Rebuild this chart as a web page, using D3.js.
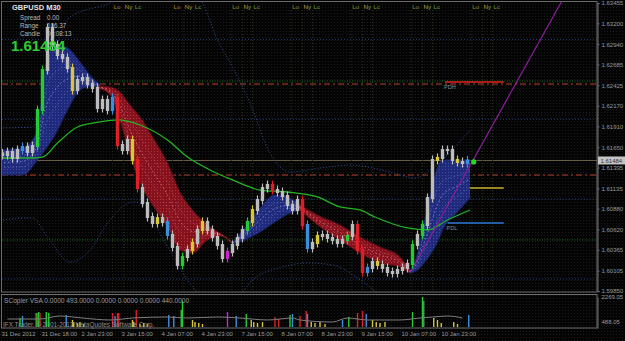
<!DOCTYPE html>
<html>
<head>
<meta charset="utf-8">
<script src="https://cdn.jsdelivr.net/npm/d3@7"></script>
<style>
  html, body { margin: 0; padding: 0; background: #000; overflow: hidden; }
  svg { display: block; }
  text { font-family: "Liberation Sans", Arial, sans-serif; }
</style>
</head>
<body>
<div id="chart"></div>
<script>
// *************************************
// DATA
// *************************************

const priceTicks = ["1.63455", "1.63200", "1.62940", "1.62685", "1.62425", "1.62170", "1.61910", "1.61650",
                    "1.61395", "1.61135", "1.60880", "1.60620", "1.60365", "1.60105", "1.59850"];
const volumeTicks = [2269.05, 488.05];
const dateLabels = ["31 Dec 2012", "31 Dec 18:00", "2 Jan 23:00", "3 Jan 15:00", "4 Jan 07:00", "4 Jan 23:00",
                    "7 Jan 15:00", "8 Jan 07:00", "8 Jan 23:00", "9 Jan 15:00", "10 Jan 07:00", "10 Jan 23:00"];
const barsPerLabel = 32;
const barsPerSlot = 4;   // one drawn candle = 2 hours of M30 bars

// close price of each 2h slot
const closes = [1.61552, 1.61590, 1.61515, 1.61615, 1.61653, 1.61590, 1.61665, 1.62116, 1.62616, 1.63142,
                1.62929, 1.62804, 1.62767, 1.62641, 1.62366, 1.62491, 1.62516, 1.62441, 1.62391, 1.62141,
                1.62241, 1.62116, 1.62266, 1.61678, 1.61615, 1.61740, 1.61490, 1.61139, 1.60952, 1.60776,
                1.60701, 1.60764, 1.60714, 1.60551, 1.60401, 1.60176, 1.60276, 1.60363, 1.60451, 1.60614,
                1.60714, 1.60614, 1.60526, 1.60426, 1.60263, 1.60338, 1.60426, 1.60514, 1.60614, 1.60714,
                1.60864, 1.60989, 1.61139, 1.61177, 1.61114, 1.61089, 1.61039, 1.60927, 1.60864, 1.60989,
                1.60676, 1.60388, 1.60451, 1.60539, 1.60551, 1.60514, 1.60489, 1.60451, 1.60489, 1.60539,
                1.60676, 1.60363, 1.60088, 1.60138, 1.60213, 1.60176, 1.60138, 1.60088, 1.60075, 1.60113,
                1.60138, 1.60188, 1.60426, 1.60551, 1.60676, 1.61014, 1.61490, 1.61515, 1.61615, 1.61615,
                1.61490, 1.61465, 1.61452, 1.61484];

// VSA-coloured candles: slot index and colour code
const highlightSlots  = [4, 7, 8, 14, 22, 23, 26, 27, 31, 33, 36, 38, 40, 45, 49, 50, 54, 60, 61, 63,
                         69, 71, 72, 73, 75, 82, 84, 87, 91, 93];
const highlightColors = ["b", "g", "g", "y", "b", "r", "y", "r", "y", "b", "g", "y", "y", "m", "g", "y", "r", "r", "b", "y",
                         "g", "r", "r", "b", "y", "g", "g", "y", "y", "b"];

// MA ribbons: [bar, upper price, lower price]
const blueRibbon1 = [[0, 1.61615, 1.61302], [18, 1.61640, 1.61302], [30, 1.61865, 1.61490], [36, 1.62616, 1.61615],
                     [44, 1.62929, 1.61803], [54, 1.62892, 1.62116], [64, 1.62717, 1.62366], [74, 1.62516, 1.62416],
                     [80, 1.62441, 1.62404]];
const redRibbon1 = [[78, 1.62416, 1.62391], [88, 1.62404, 1.62303], [96, 1.62341, 1.61991], [104, 1.62178, 1.61552],
                    [112, 1.62028, 1.61202], [122, 1.61778, 1.60927], [134, 1.61452, 1.60651], [144, 1.61089, 1.60363],
                    [154, 1.60864, 1.60326], [166, 1.60676, 1.60489], [176, 1.60576, 1.60539], [186, 1.60463, 1.60438]];
const blueRibbon2 = [[186, 1.60463, 1.60438], [196, 1.60639, 1.60489], [208, 1.60889, 1.60589], [220, 1.61052, 1.60714],
                     [232, 1.61014, 1.60826], [240, 1.60927, 1.60864]];
const redRibbon2 = [[240, 1.60927, 1.60864], [254, 1.60801, 1.60676], [272, 1.60676, 1.60489], [288, 1.60526, 1.60326],
                    [304, 1.60401, 1.60201], [320, 1.60276, 1.60151], [328, 1.60113, 1.60075]];
const blueRibbon3 = [[328, 1.60113, 1.60075], [334, 1.60326, 1.60113], [338, 1.60614, 1.60176], [344, 1.61027, 1.60301],
                     [350, 1.61402, 1.60463], [354, 1.61490, 1.60614], [366, 1.61490, 1.60839], [376, 1.61490, 1.61014]];

// slow moving average: [bar, price]
const greenMA = [[0, 1.61515], [24, 1.61515], [34, 1.61527], [46, 1.61703], [62, 1.61903], [80, 1.61966],
                 [94, 1.61991], [112, 1.61928], [134, 1.61740], [150, 1.61527], [168, 1.61365], [186, 1.61240],
                 [208, 1.61114], [230, 1.61089], [254, 1.61027], [272, 1.60902], [288, 1.60864], [300, 1.60776],
                 [326, 1.60639], [342, 1.60614], [358, 1.60739], [376, 1.60864]];

// dotted envelope bands: [bar, price]
const upperBand = [[0, 1.61890], [26, 1.61903], [40, 1.62616], [48, 1.63054], [56, 1.63280], [88, 1.63455],
                   [120, 1.63743], [160, 1.63493], [174, 1.62992], [186, 1.62654], [200, 1.62203], [216, 1.61577],
                   [232, 1.61340], [256, 1.61390], [280, 1.61427], [312, 1.61340], [332, 1.61265], [344, 1.61365],
                   [360, 1.61590], [376, 1.61865]];
const lowerBand = [[0, 1.60739], [26, 1.60764], [38, 1.60526], [56, 1.60213], [70, 1.60326], [88, 1.60739],
                   [106, 1.60964], [118, 1.60902], [128, 1.60576], [142, 1.60201], [150, 1.59988], [160, 1.59800],
                   [172, 1.59675], [188, 1.59737], [202, 1.59988], [226, 1.60151], [246, 1.60201], [266, 1.60176],
                   [288, 1.59988], [304, 1.59800]];

// trend line (purple): [bar, price]
const trendLine = [[328, 1.60075], [450, 1.63493]];

// horizontal levels
const roundLevels = [1.63, 1.62, 1.61, 1.60];
const greenLevels = [1.62479, 1.60489];
const redLevels = [1.62441, 1.61302];
const bidPrice = 1.61484;
// short daily levels at right: [from bar, to bar, price, colour, label]
const dayLevels = [[356, 403, 1.62466, "#e02020", "PDH"], [376, 403, 1.61139, "#c8b030", ""],
                   [358, 403, 1.60701, "#2f7ad8", "PDL"]];

// sessions (London open, New York open, London close)
const londonOpen = [90, 138, 185, 233, 281, 329, 377];
const nyOffset = 9, lcOffset = 17;

// volume bars (SCopier VSA)
const volBars   = [16, 18, 29, 30, 31, 32, 37, 39, 53, 58, 59, 62, 64, 67, 90, 92, 94, 95, 106, 107,
                   109, 112, 115, 118, 135, 139, 145, 146, 154, 156, 159, 162, 182, 189, 197, 201, 203, 206, 210, 220,
                   223, 232, 234, 240, 245, 246, 249, 252, 256, 260, 274, 279, 286, 290, 293, 298, 301, 304, 308, 330,
                   338, 339, 347, 350, 353, 363, 366, 375];
const volValues = [732, 878, 1098, 1098, 1171, 1098, 1171, 1098, 952, 586, 439, 366, 439, 293, 1098, 878, 1098, 1098, 586, 439,
                   1318, 293, 366, 293, 952, 878, 1318, 1976, 586, 439, 366, 293, 1171, 878, 1025, 586, 439, 366, 439, 805,
                   659, 952, 1025, 878, 1244, 1025, 439, 366, 439, 293, 586, 805, 1098, 1244, 1025, 586, 439, 366, 439, 1171,
                   2269, 1976, 732, 586, 366, 439, 293, 952];
const volColors = ["g", "b", "g", "r", "g", "r", "g", "g", "b", "y", "y", "y", "y", "y", "r", "b", "r", "r", "y", "y",
                   "r", "y", "y", "y", "b", "b", "g", "g", "y", "y", "y", "y", "m", "b", "g", "y", "y", "y", "y", "r",
                   "r", "g", "b", "r", "r", "b", "y", "y", "y", "y", "b", "g", "r", "r", "b", "y", "y", "y", "y", "g",
                   "g", "k", "y", "y", "y", "y", "y", "b"];
// volume average line: [bar, volume]
const volAverage = [[6, 659], [32, 659], [48, 878], [66, 732], [88, 586], [106, 732], [134, 805], [150, 732],
                    [174, 805], [192, 732], [214, 586], [234, 732], [240, 586], [266, 439], [278, 732], [294, 586],
                    [320, 586], [336, 732], [346, 805], [358, 878], [370, 732]];

const colorCodes = { y: "#d8c838", r: "#e01e28", g: "#22cc33", b: "#3a8ee0", m: "#d020d0", k: "#6a8a78" };

// *************************************
// SCALES
// *************************************

const width = 625, height = 341;
const plotRight = 597, mainBottom = 292, panelTop = 295, panelBottom = 328;

const x = d3.scaleLinear().domain([0, 376]).range([0, 470]);
const y = d3.scaleLinear().domain([1.59850, 1.63455]).range([291, 3]);
const yVol = d3.scaleLinear().domain([0, 2269.05]).range([panelBottom, 297]);

const svg = d3.select("#chart").append("svg")
              .attr("width", width)
              .attr("height", height);

const defs = svg.append("defs");

let makeDots = (id, base, dot) => {
  let p = defs.append("pattern")
              .attr("id", id)
              .attr("width", 3).attr("height", 3)
              .attr("patternUnits", "userSpaceOnUse");
  p.append("rect").attr("width", 3).attr("height", 3).attr("fill", base);
  p.append("rect").attr("x", 1).attr("y", 1).attr("width", 1).attr("height", 1).attr("fill", dot);
};
makeDots("bgDots", "#040404", "#1b1b1b");
makeDots("blueDots", "#1f2b7a", "#3f4ea6");
makeDots("redDots", "#84121c", "#b83242");

defs.append("clipPath").attr("id", "mainClip")
    .append("rect").attr("x", 2).attr("y", 2).attr("width", plotRight - 2).attr("height", mainBottom - 2);

svg.append("rect").attr("width", width).attr("height", height).attr("fill", "url(#bgDots)");

const main = svg.append("g").attr("clip-path", "url(#mainClip)");

// *************************************
// LEVELS AND SESSIONS
// *************************************

main.selectAll("line.round").data(roundLevels).join("line")
    .attr("x1", 2).attr("x2", plotRight)
    .attr("y1", d => y(d)).attr("y2", d => y(d))
    .attr("stroke", "#24407e").attr("stroke-dasharray", "1,2");

main.selectAll("line.glev").data(greenLevels).join("line")
    .attr("x1", 2).attr("x2", plotRight)
    .attr("y1", d => y(d)).attr("y2", d => y(d))
    .attr("stroke", "#1f7a22").attr("stroke-dasharray", "1,1.5");

main.selectAll("line.rlev").data(redLevels).join("line")
    .attr("x1", 2).attr("x2", plotRight)
    .attr("y1", d => y(d)).attr("y2", d => y(d))
    .attr("stroke", "#b8402a").attr("stroke-width", 1.2).attr("stroke-dasharray", "6,3,2,3");

main.append("line")
    .attr("x1", 2).attr("x2", plotRight)
    .attr("y1", y(bidPrice)).attr("y2", y(bidPrice))
    .attr("stroke", "#6e6048");

let sessions = [];
londonOpen.forEach((b) => {
  sessions.push({ bar: b, label: "Lo", color: "#9a8634" });
  sessions.push({ bar: b + nyOffset, label: "Ny", color: "#aca246" });
  sessions.push({ bar: b + lcOffset, label: "Lc", color: "#5e9e3e" });
});

main.selectAll("line.sess").data(sessions).join("line")
    .attr("x1", d => x(d.bar)).attr("x2", d => x(d.bar))
    .attr("y1", 10).attr("y2", mainBottom)
    .attr("stroke", "#28321a").attr("stroke-dasharray", "1,2");

main.selectAll("text.sess").data(sessions).join("text")
    .attr("x", d => x(d.bar) + 1).attr("y", 8.5)
    .attr("font-size", 6.2).attr("fill", d => d.color)
    .text(d => d.label);

// *************************************
// BANDS, RIBBONS, AVERAGES
// *************************************

let priceLine = d3.line().x(d => x(d[0])).y(d => y(d[1])).curve(d3.curveMonotoneX);

[upperBand, lowerBand].forEach((band) => {
  main.append("path").datum(band)
      .attr("d", priceLine)
      .attr("fill", "none").attr("stroke", "#30509e")
      .attr("stroke-width", 1).attr("stroke-dasharray", "1,2");
});

let drawRibbon = (data, fill, edge, inner) => {
  let area = d3.area()
               .x(d => x(d[0]))
               .y0(d => y(d[2]))
               .y1(d => y(d[1]))
               .curve(d3.curveMonotoneX);
  main.append("path").datum(data).attr("d", area).attr("fill", fill);
  [0.3, 0.5, 0.7].forEach((f) => {
    let mid = d3.line().x(d => x(d[0])).y(d => y(d[1] * (1 - f) + d[2] * f)).curve(d3.curveMonotoneX);
    main.append("path").datum(data).attr("d", mid)
        .attr("fill", "none").attr("stroke", inner)
        .attr("stroke-width", 0.8).attr("stroke-dasharray", "1.5,2.5")
        .attr("opacity", f === 0.5 ? 0.7 : 0.35);
  });
  [1, 2].forEach((k) => {
    let e = d3.line().x(d => x(d[0])).y(d => y(d[k])).curve(d3.curveMonotoneX);
    main.append("path").datum(data).attr("d", e)
        .attr("fill", "none").attr("stroke", edge).attr("stroke-width", 0.9);
  });
};

drawRibbon(blueRibbon1, "url(#blueDots)", "#182468", "#c0c6ff");
drawRibbon(redRibbon1, "url(#redDots)", "#5e0c14", "#ffa8b8");
drawRibbon(blueRibbon2, "url(#blueDots)", "#182468", "#c0c6ff");
drawRibbon(redRibbon2, "url(#redDots)", "#5e0c14", "#ffa8b8");
drawRibbon(blueRibbon3, "url(#blueDots)", "#182468", "#c0c6ff");

main.append("path").datum(greenMA)
    .attr("d", priceLine)
    .attr("fill", "none").attr("stroke", "#22b524").attr("stroke-width", 1.3);

main.append("path").datum(trendLine)
    .attr("d", d3.line().x(d => x(d[0])).y(d => y(d[1])))
    .attr("fill", "none").attr("stroke", "#8a1e9a").attr("stroke-width", 1.2);

dayLevels.forEach((lv) => {
  main.append("line")
      .attr("x1", x(lv[0])).attr("x2", x(lv[1]))
      .attr("y1", y(lv[2])).attr("y2", y(lv[2]))
      .attr("stroke", lv[3]).attr("stroke-width", 1.6);
  main.append("text")
      .attr("x", x(lv[0]) - 1).attr("y", y(lv[2]) + 6.5)
      .attr("font-size", 5.5).attr("fill", "#8a8a8a")
      .text(lv[4]);
});

// *************************************
// CANDLES
// *************************************

let colorOfSlot = {};
highlightSlots.forEach((s, i) => { colorOfSlot[s] = colorCodes[highlightColors[i]]; });

let candles = closes.map((c, i) => {
  let o = i === 0 ? closes[0] + 0.0002 : closes[i - 1];
  return { bar: i * barsPerSlot + 2, open: o, close: c, color: colorOfSlot[i] || "#bdbdbd" };
});

const candleG = main.append("g");
candleG.selectAll("line").data(candles).join("line")
       .attr("x1", d => x(d.bar)).attr("x2", d => x(d.bar))
       .attr("y1", d => y(Math.max(d.open, d.close)) - 4.5)
       .attr("y2", d => y(Math.min(d.open, d.close)) + 4.5)
       .attr("stroke", d => d.color).attr("stroke-width", 1.2);

candleG.selectAll("rect").data(candles).join("rect")
       .attr("x", d => x(d.bar) - 1.7)
       .attr("width", 3.4)
       .attr("y", d => y(Math.max(d.open, d.close)) - 1)
       .attr("height", d => Math.max(2, Math.abs(y(d.open) - y(d.close)) + 2))
       .attr("fill", d => d.color);

main.append("circle")
    .attr("cx", x(379)).attr("cy", y(bidPrice) + 1.5).attr("r", 2.6)
    .attr("fill", "#22dd22");

// *************************************
// FRAMES AND AXES
// *************************************

svg.append("rect").attr("x", 1.5).attr("y", 1.5)
   .attr("width", plotRight - 1.5).attr("height", mainBottom - 1.5)
   .attr("fill", "none").attr("stroke", "#6c6c6c");
svg.append("rect").attr("x", 1.5).attr("y", panelTop - 0.5)
   .attr("width", plotRight - 1.5).attr("height", panelBottom - panelTop + 0.5)
   .attr("fill", "none").attr("stroke", "#6c6c6c");

const yAxis = svg.append("g")
                 .attr("transform", `translate(${plotRight + 0.5},0)`)
                 .call(d3.axisRight(y)
                         .tickValues(priceTicks.map(Number))
                         .tickFormat((d, i) => priceTicks[i])
                         .tickSize(2).tickPadding(2));
yAxis.select(".domain").attr("stroke", "#6c6c6c");
yAxis.selectAll(".tick line").attr("stroke", "#6c6c6c");
yAxis.selectAll(".tick text").attr("fill", "#9a9a9a").attr("font-size", 6)
     .attr("font-family", "Liberation Sans, Arial, sans-serif");

// current price box
svg.append("rect").attr("x", plotRight + 1).attr("y", y(bidPrice) - 4)
   .attr("width", 27).attr("height", 8).attr("fill", "#c4c4c4");
svg.append("text").attr("x", plotRight + 3.5).attr("y", y(bidPrice) + 2.2)
   .attr("font-size", 6).attr("fill", "#333")
   .text(bidPrice.toFixed(5));

const volAxis = svg.append("g")
                   .attr("transform", `translate(${plotRight + 0.5},0)`)
                   .call(d3.axisRight(yVol).tickValues(volumeTicks)
                           .tickFormat(d => d.toFixed(2)).tickSize(0).tickPadding(4));
volAxis.select(".domain").attr("stroke", "#6c6c6c");
volAxis.selectAll(".tick text").attr("fill", "#9a9a9a").attr("font-size", 6)
       .attr("font-family", "Liberation Sans, Arial, sans-serif");

svg.selectAll("text.date").data(dateLabels).join("text")
   .attr("x", (d, i) => x(i * barsPerLabel) + 1.5)
   .attr("y", 336)
   .attr("font-size", 6).attr("fill", "#9a9a9a")
   .text(d => d);

// *************************************
// VOLUME PANEL
// *************************************

svg.append("g").selectAll("rect").data(volBars).join("rect")
   .attr("x", d => x(d) - 0.7)
   .attr("width", 1.4)
   .attr("y", (d, i) => yVol(volValues[i]))
   .attr("height", (d, i) => panelBottom - 1 - yVol(volValues[i]))
   .attr("fill", (d, i) => colorCodes[volColors[i]]);

svg.append("path").datum(volAverage)
   .attr("d", d3.line().x(d => x(d[0])).y(d => yVol(d[1])).curve(d3.curveMonotoneX))
   .attr("fill", "none").attr("stroke", "#7e7e7e").attr("stroke-width", 1);

svg.append("text").attr("x", 4).attr("y", 303)
   .attr("font-size", 6.6).attr("fill", "#9c9c9c")
   .text("SCopier VSA 0.0000 493.0000 0.0000 0.0000 0.0000 440.0000");
svg.append("text").attr("x", 3).attr("y", 327)
   .attr("font-size", 6.4).attr("fill", "#8a8a8a")
   .text("IFX Trader, © 2001-2012 MetaQuotes Software Corp.");

// *************************************
// INFO BLOCK
// *************************************

svg.append("text").attr("x", 12).attr("y", 10)
   .attr("font-family", "DejaVu Sans, sans-serif").attr("font-weight", "bold")
   .attr("font-size", 7.5).attr("fill", "#e4e4e4")
   .text("GBPUSD  M30");

const infoRows = [["Spread", "0.00"], ["Range", "106.37"], ["Candle", "00:08:13"]];
infoRows.forEach((r, i) => {
  svg.append("text").attr("x", 20).attr("y", 19.5 + i * 8)
     .attr("font-size", 6.3).attr("fill", "#b8b8b8").text(r[0]);
  svg.append("text").attr("x", 47).attr("y", 19.5 + i * 8)
     .attr("font-size", 6.3).attr("fill", "#b8b8b8").text(r[1]);
});

svg.append("text").attr("x", 11).attr("y", 50.5)
   .attr("font-family", "DejaVu Sans, sans-serif").attr("font-weight", "bold")
   .attr("font-size", 15).attr("fill", "#2fcf2f")
   .text(bidPrice.toFixed(5));
</script>
</body>
</html>
